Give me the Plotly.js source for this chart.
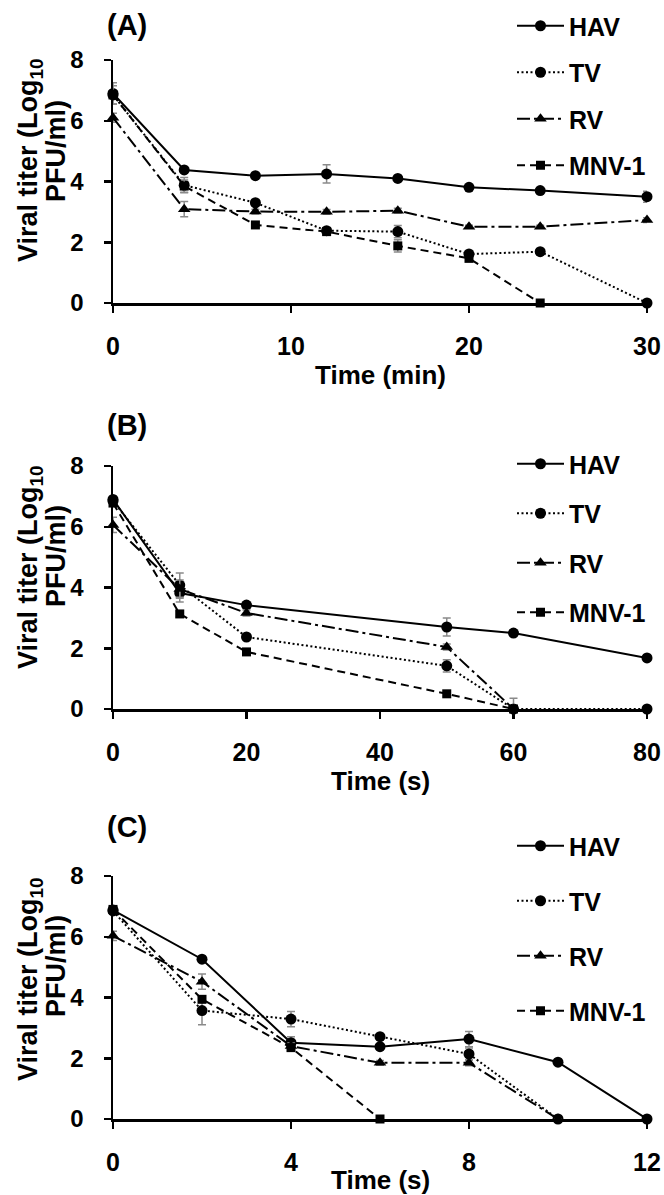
<!DOCTYPE html>
<html><head><meta charset="utf-8">
<script src="https://cdn.plot.ly/plotly-3.0.1.min.js"></script>
<style>html,body{margin:0;padding:0;background:#fff}#chart{width:664px;height:1195px}</style>
</head><body><div id="chart"></div>
<script>
// ---------- data ----------
const seriesNames = ["HAV", "TV", "RV", "MNV-1"];

const A_time = [0, 4, 8, 12, 16, 20, 24, 30];
const A_HAV = [6.90, 4.38, 4.19, 4.25, 4.10, 3.81, 3.70, 3.50];
const A_HAV_err = [0.35, 0.05, 0.05, 0.30, 0.05, 0.05, 0.05, 0.18];
const A_TV = [6.85, 3.88, 3.30, 2.38, 2.35, 1.61, 1.69, 0];
const A_TV_err = [0.30, 0.25, 0.10, 0.08, 0.20, 0.12, 0.10, 0];
const A_RV = [6.10, 3.09, 3.01, 3.00, 3.04, 2.51, 2.51, 2.73];
const A_RV_err = [0.15, 0.25, 0.08, 0.08, 0.08, 0.05, 0.05, 0.08];
const A_MNV_time = [0, 4, 8, 12, 16, 20, 24];
const A_MNV = [6.85, 3.85, 2.57, 2.35, 1.88, 1.47, 0];
const A_MNV_err = [0.10, 0.20, 0.08, 0.08, 0.20, 0.10, 0];

const B_time = [0, 10, 20, 50, 60, 80];
const B_HAV = [6.90, 3.82, 3.42, 2.70, 2.50, 1.68];
const B_HAV_err = [0.10, 0.30, 0.08, 0.30, 0.08, 0.05];
const B_TV = [6.85, 4.08, 2.37, 1.42, 0, 0];
const B_TV_err = [0.10, 0.40, 0.08, 0.20, 0, 0];
const B_RV_time = [0, 10, 20, 50, 60];
const B_RV = [6.06, 3.95, 3.16, 2.04, 0];
const B_RV_err = [0.25, 0.30, 0.10, 0.10, 0.35];
const B_MNV_time = [0, 10, 20, 50, 60];
const B_MNV = [6.78, 3.13, 1.88, 0.50, 0];
const B_MNV_err = [0.10, 0.10, 0.08, 0.08, 0];

const C_time = [0, 2, 4, 6, 8, 10, 12];
const C_HAV = [6.88, 5.26, 2.51, 2.38, 2.63, 1.87, 0];
const C_HAV_err = [0.10, 0.08, 0.20, 0.08, 0.25, 0.05, 0];
const C_TV_time = [0, 2, 4, 6, 8, 10];
const C_TV = [6.85, 3.57, 3.29, 2.71, 2.14, 0];
const C_TV_err = [0.10, 0.47, 0.25, 0.10, 0.20, 0];
const C_RV_time = [0, 2, 4, 6, 8, 10];
const C_RV = [6.03, 4.52, 2.40, 1.85, 1.85, 0];
const C_RV_err = [0.15, 0.25, 0.10, 0.08, 0.10, 0];
const C_MNV_time = [0, 2, 4, 6];
const C_MNV = [6.90, 3.94, 2.35, 0];
const C_MNV_err = [0.08, 0.10, 0.10, 0];

const panelLabels = ["(A)", "(B)", "(C)"];
const xTitles = ["Time (min)", "Time (s)", "Time (s)"];
const xTicks = [[0, 10, 20, 30], [0, 20, 40, 60, 80], [0, 4, 8, 12]];
const xRanges = [[0, 30], [0, 80], [0, 12]];
const yTicks = [0, 2, 4, 6, 8];

// ---------- styling ----------
const W = 664, H = 1195;
const FONT = "Liberation Sans, Arial, sans-serif";
const px = v => v / W;
const py = v => 1 - v / H;
const styles = {
  "HAV":   {dash: "solid", symbol: "circle", size: 11},
  "TV":    {dash: "2px,2.5px", symbol: "circle", size: 11},
  "RV":    {dash: "13px,4px,3px,4px", symbol: "triangle-up", size: 11},
  "MNV-1": {dash: "8px,5px", symbol: "square", size: 9}
};
// pixel geometry of each panel
const panels = [
  {top: 60,  bot: 303,  legTop: 25,  legStep: 47, titleY: 375, labY: 25,  yt1: 160, yt2: 151},
  {top: 466, bot: 709,  legTop: 463, legStep: 50, titleY: 781, labY: 425, yt1: 567, yt2: 556},
  {top: 876, bot: 1119, legTop: 845, legStep: 55.5, titleY: 1180, labY: 827, yt1: 979, yt2: 966}
];

const panelData = [
  [[A_time, A_HAV, A_HAV_err], [A_time, A_TV, A_TV_err], [A_time, A_RV, A_RV_err], [A_MNV_time, A_MNV, A_MNV_err]],
  [[B_time, B_HAV, B_HAV_err], [B_time, B_TV, B_TV_err], [B_RV_time, B_RV, B_RV_err], [B_MNV_time, B_MNV, B_MNV_err]],
  [[C_time, C_HAV, C_HAV_err], [C_TV_time, C_TV, C_TV_err], [C_RV_time, C_RV, C_RV_err], [C_MNV_time, C_MNV, C_MNV_err]]
];

const traces = [];
const layout = {
  width: W, height: H,
  margin: {l: 0, r: 0, t: 0, b: 0},
  paper_bgcolor: "#fff", plot_bgcolor: "#fff",
  font: {family: FONT, color: "#000"},
  annotations: [],
  showlegend: true
};

panels.forEach((P, i) => {
  const sfx = i === 0 ? "" : String(i + 1);
  const legKey = "legend" + sfx;
  panelData[i].forEach((d, k) => {
    const name = seriesNames[k];
    const st = styles[name];
    traces.push({
      type: "scatter", mode: "lines+markers",
      x: d[0], y: d[1], name: name,
      xaxis: "x" + sfx, yaxis: "y" + sfx,
      legend: legKey, legendgroup: name + sfx,
      line: {color: "#000", width: 2, dash: st.dash},
      marker: {color: "#000", symbol: st.symbol, size: st.size},
      error_y: {type: "data", array: d[2], arrayminus: d[1].map((v, j) => v === 0 ? 0 : d[2][j]),
        visible: true, color: "#8a8a8a", thickness: 1.5, width: 4},
      cliponaxis: false
    });
  });
  layout["xaxis" + sfx] = {
    domain: [px(113), px(647)], range: xRanges[i], anchor: "y" + sfx,
    tickvals: xTicks[i], ticks: "outside", ticklen: 7, tickwidth: 2.5, tickcolor: "#000",
    showline: true, linecolor: "#000", linewidth: 2.5, showgrid: false, zeroline: false,
    tickfont: {family: FONT, size: 25, weight: "bold", color: "#000"},
    ticklabelstandoff: 12, fixedrange: true
  };
  layout["yaxis" + sfx] = {
    domain: [py(P.bot), py(P.top)], range: [0, 8], anchor: "x" + sfx,
    tickvals: yTicks, ticks: "outside", ticklen: 7, tickwidth: 2.5, tickcolor: "#000",
    showline: true, linecolor: "#000", linewidth: 2.5, showgrid: false, zeroline: false,
    tickfont: {family: FONT, size: 24, weight: "bold", color: "#000"},
    ticklabelstandoff: 15, fixedrange: true
  };
  layout[legKey] = {
    x: px(512), y: py(P.legTop - 22), xanchor: "left", yanchor: "top",
    xref: "paper", yref: "paper",
    font: {family: FONT, size: 25, weight: "bold", color: "#000"},
    bgcolor: "rgba(0,0,0,0)", borderwidth: 0,
    traceorder: "grouped", tracegroupgap: P.legStep - 36, itemwidth: 47
  };
  layout.annotations.push(
    {xref: "paper", yref: "paper", x: px(127), y: py(P.labY), text: panelLabels[i],
     showarrow: false, xanchor: "center", yanchor: "middle",
     font: {family: FONT, size: 29, weight: "bold", color: "#000"}},
    {xref: "paper", yref: "paper", x: px(380), y: py(P.titleY), text: xTitles[i],
     showarrow: false, xanchor: "center", yanchor: "middle",
     font: {family: FONT, size: 26, weight: "bold", color: "#000"}},
    {xref: "paper", yref: "paper", x: px(30), y: py(P.yt1), text: "Viral titer (Log<sub>10</sub>",
     showarrow: false, xanchor: "center", yanchor: "middle", textangle: -90,
     font: {family: FONT, size: 27, weight: "bold", color: "#000"}},
    {xref: "paper", yref: "paper", x: px(56), y: py(P.yt2), text: "PFU/ml)",
     showarrow: false, xanchor: "center", yanchor: "middle", textangle: -90,
     font: {family: FONT, size: 27, weight: "bold", color: "#000"}}
  );
});

Plotly.newPlot("chart", traces, layout, {displayModeBar: false, staticPlot: true});
</script></body></html>
